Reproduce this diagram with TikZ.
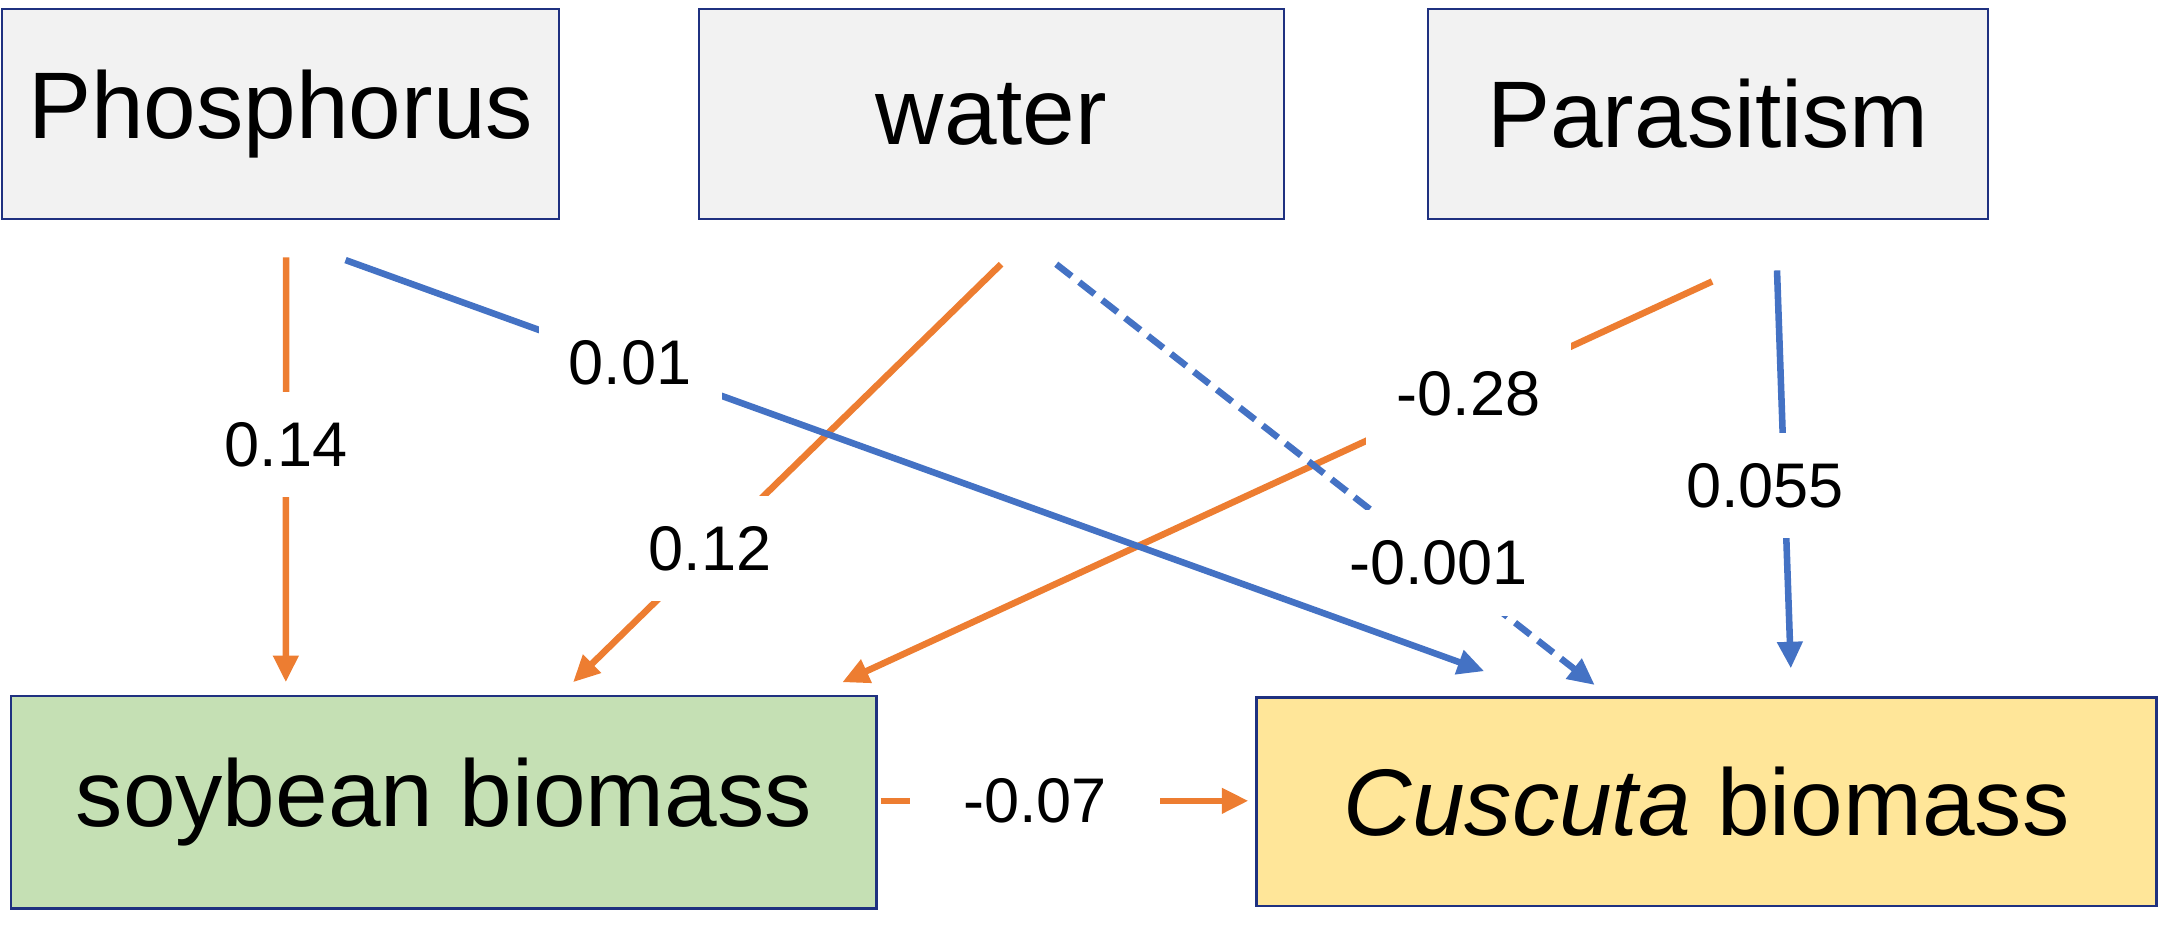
\documentclass[tikz,border=0pt]{standalone}
\usepackage{fontspec}
\setmainfont{Liberation Sans}
\usepackage{xcolor}
\usetikzlibrary{arrows.meta,calc}

\definecolor{boxline}{HTML}{1F3180}
\definecolor{boxgray}{HTML}{F2F2F2}
\definecolor{soygreen}{HTML}{C5E0B4}
\definecolor{cusyellow}{HTML}{FFE699}
\definecolor{effOrange}{HTML}{ED7D31}
\definecolor{effBlue}{HTML}{4472C4}

\begin{document}
\begin{tikzpicture}[x=0.02cm,y=-0.02cm,>={Triangle[length=11pt,width=10pt]}]
        \tikzstyle{var}=[draw=boxline,line width=1pt,fill=boxgray,minimum height=3.04cm,
            inner sep=0pt,font=\fontsize{39}{46}\selectfont]
        \tikzstyle{coef}=[fill=white,inner sep=12.5pt,font=\fontsize{26}{31}\selectfont]
        \tikzstyle{orangearr}=[->,draw=effOrange,line width=2.7pt]
        \tikzstyle{bluearr}=[->,draw=effBlue,line width=2.7pt]

        \useasboundingbox (0,0) rectangle (1568,671);

        \node[var,minimum width=8.07cm] (P) at (203.25,82.5) {Phosphorus};
        \node[var,minimum width=8.48cm] (W) at (718,82.5) {water};
        \node[var,minimum width=8.12cm] (R) at (1237,82.5) {Parasitism};
        \node[var,fill=soygreen,minimum width=12.54cm,minimum height=3.08cm] (S) at (321.5,581) {soybean biomass};
        \node[var,fill=cusyellow,minimum width=13.04cm,minimum height=3.02cm] (C) at (1236,580.5) {{\itshape Cuscuta} biomass};

        % effects on soybean biomass
        \path ($(P.south)+(4,27)$) edge[orangearr] node[coef,pos=0.44] {0.14} ($(S.north)+(-114.5,-9)$);
        \path ($(W.south)+(7,32)$) edge[orangearr] node[coef,pos=0.68] {0.12} ($(S.north)+(93.5,-9)$);
        \path ($(R.south)+(3,44.5)$) edge[orangearr] node[coef,pos=0.28] {-0.28} ($(S.north)+(288.5,-9)$);
        \path ($(S.east)+(2,-1)$) edge[orangearr] node[coef,inner xsep=22pt,pos=0.42] {-0.07} ($(C.west)+(-5,-0.5)$);

        % effects on Cuscuta biomass
        \path ($(W.south)+(47,32)$) edge[bluearr,dash pattern=on 8pt off 4pt] node[coef,pos=0.71] {-0.001} ($(C.north)+(-81,-8)$);
        \path ($(P.south)+(47,29)$) edge[bluearr] node[coef,pos=0.25] {0.01} ($(C.north)+(-161,-18)$);
        \path ($(R.south)+(50,36.5)$) edge[bluearr] node[coef,pos=0.54,xshift=-0.28cm] {0.055} ($(C.north)+(61,-20)$);
    \end{tikzpicture}
\end{document}
